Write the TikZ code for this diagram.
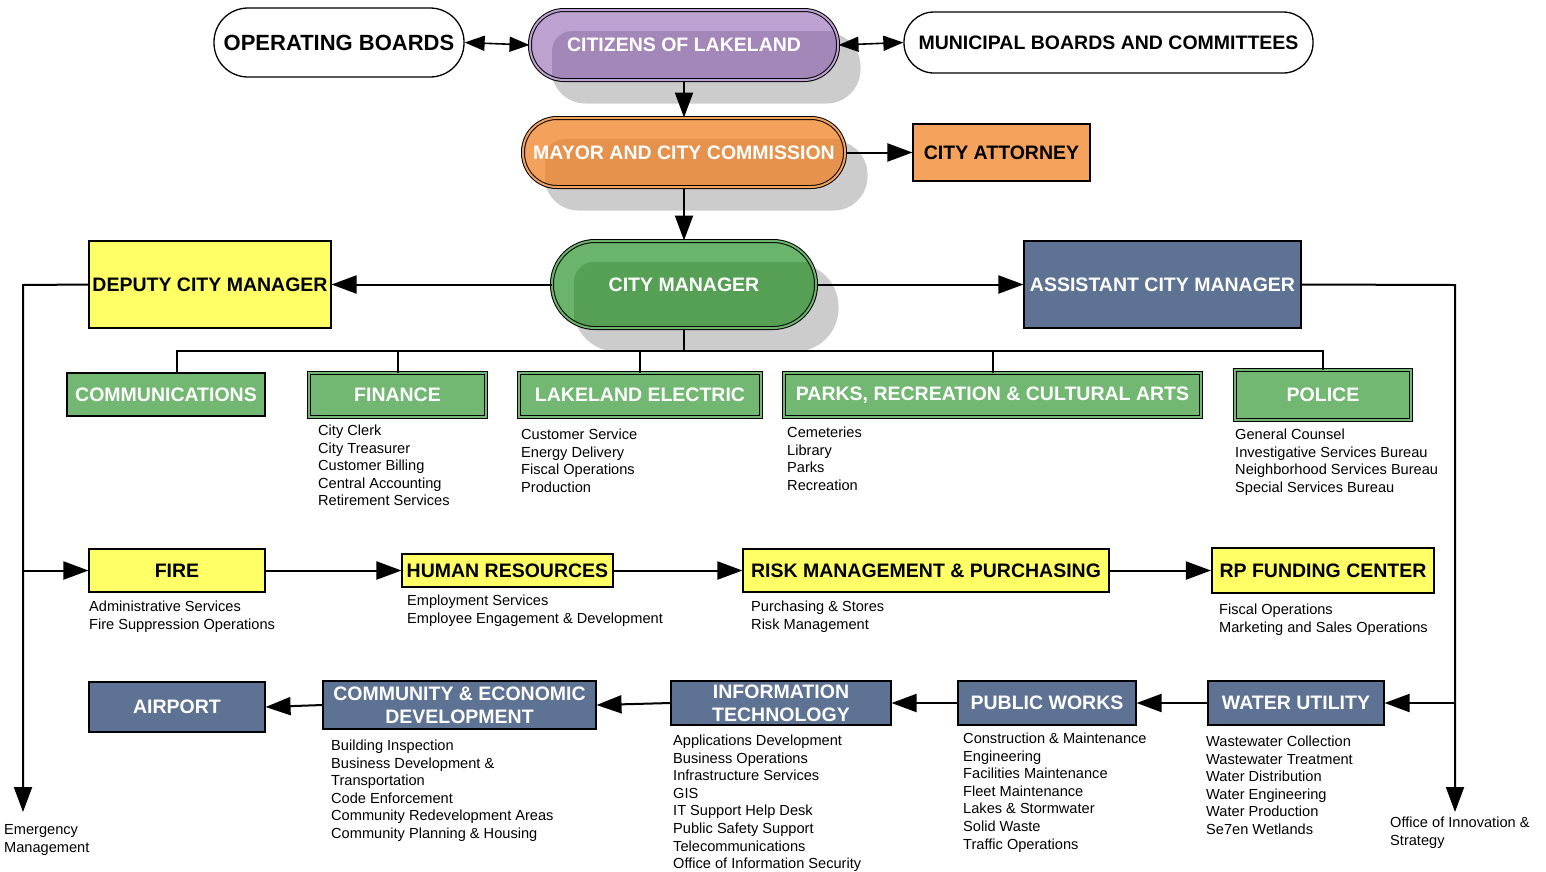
\documentclass[tikz,border=0pt]{standalone}
\usepackage{fontspec}
\setmainfont{Liberation Sans}
\usetikzlibrary{arrows.meta,calc}
\pgfdeclarelayer{background}
\pgfsetlayers{background,main}
\definecolor{purL}{HTML}{BDA1D1}
\definecolor{purD}{HTML}{A387B8}
\definecolor{orL}{HTML}{F4A25B}
\definecolor{orD}{HTML}{E6924C}
\definecolor{grL}{HTML}{6BB46B}
\definecolor{grD}{HTML}{55A055}
\definecolor{grBox}{HTML}{72B872}
\definecolor{yelC}{HTML}{FFFF66}
\definecolor{slateC}{HTML}{5E7293}
\definecolor{attC}{HTML}{F4A25C}
\definecolor{shadC}{HTML}{CCCCCC}
\newcommand\titlef{\bfseries\fontsize{19.5}{23}\selectfont}
\newcommand\obfont{\bfseries\fontsize{22}{25}\selectfont}
\newcommand\listf{\fontsize{14.6}{17.6}\selectfont}
\begin{document}
\begin{tikzpicture}[x=1pt,y=-1pt,
  conn/.style={line width=2pt},
  arr/.style={conn,-{Triangle[length=25pt,width=18pt]}},
  darr/.style={line width=1.6pt,{Triangle[length=20pt,width=15pt]}-{Triangle[length=20pt,width=15pt]}},
  box/.style={draw,line width=1.1pt,inner sep=0pt,font=\titlef,align=center},
  dbox/.style={box,line width=0.8pt,double distance=1.8pt},
  gbox/.style={dbox,fill=grBox,double=grBox,text=white},
  ybox/.style={box,fill=yelC},
  sbox/.style={box,fill=slateC,text=white},
  board/.style={draw,line width=1.3pt,fill=white,inner sep=0pt,font=\titlef},
  pill/.style n args={3}{rounded corners=#3,fill=#1,draw=black,line width=1pt,
    double=#1,double distance=2pt,text=white,font=\titlef,inner sep=0pt,
    path picture={\fill[#2,rounded corners=20pt]
      ([shift={(22pt,-21pt)}]path picture bounding box.north west) rectangle
      ([shift={(30pt,-30pt)}]path picture bounding box.south east);}},
  lst/.style={anchor=north west,inner sep=0pt,align=left,font=\listf}
]
\useasboundingbox (0,0) rectangle (1546,871);

% top level
\node[board,font=\obfont,minimum width=250pt,minimum height=69pt,rounded corners=34pt] (ob) at (339,42.5) {OPERATING BOARDS};
\node[pill={purL}{purD}{34pt},minimum width=308pt,minimum height=70pt] (cit) at (684,45) {CITIZENS OF LAKELAND};
\node[board,minimum width=409pt,minimum height=61pt,rounded corners=30pt] (mbc) at (1108.5,42.5) {MUNICIPAL BOARDS AND COMMITTEES};
\node[pill={orL}{orD}{34pt},minimum width=322pt,minimum height=69pt] (mayor) at (684,152.5) {MAYOR AND CITY COMMISSION};
\node[box,fill=attC,minimum width=177pt,minimum height=57pt] (att) at (1001.5,152.5) {CITY ATTORNEY};
\node[pill={grL}{grD}{43pt},minimum width=264pt,minimum height=87pt] (cm) at (684,284.5) {CITY MANAGER};
\node[ybox,minimum width=242pt,minimum height=87pt] (dcm) at (210,284.5) {DEPUTY CITY MANAGER};
\node[sbox,minimum width=277pt,minimum height=87pt] (acm) at (1162.5,284.5) {ASSISTANT CITY MANAGER};

\begin{pgfonlayer}{background}
\foreach \n/\r in {cit/34pt,mayor/34pt,cm/43pt}
  \fill[shadC,rounded corners=\r] ([shift={(22pt,-23pt)}]\n.south west) rectangle ([shift={(22pt,-23pt)}]\n.north east);
\end{pgfonlayer}

% green departments
\node[box,fill=grBox,text=white,minimum width=198pt,minimum height=43pt] (comm) at (166,394.5) {COMMUNICATIONS};
\node[gbox,minimum width=177pt,minimum height=44pt] (fin) at (397.5,395) {FINANCE};
\node[gbox,minimum width=242pt,minimum height=44pt] (elec) at (640,395) {LAKELAND ELECTRIC};
\node[gbox,minimum width=417pt,minimum height=44pt] (parks) at (992.5,395) {PARKS, RECREATION \& CULTURAL ARTS};
\node[gbox,minimum width=176pt,minimum height=50pt] (police) at (1323,395) {POLICE};

% yellow departments
\node[ybox,minimum width=176pt,minimum height=43pt] (fire) at (177,570.5) {FIRE};
\node[ybox,minimum width=211pt,minimum height=33pt] (hr) at (507.5,570.5) {HUMAN RESOURCES};
\node[ybox,minimum width=366pt,minimum height=43pt] (risk) at (926,570.5) {RISK MANAGEMENT \& PURCHASING};
\node[ybox,line width=2.2pt,minimum width=222pt,minimum height=45pt] (rp) at (1323,570.5) {RP FUNDING CENTER};

% slate departments
\node[sbox,minimum width=176pt,minimum height=50pt] (air) at (177,707) {AIRPORT};
\node[sbox,minimum width=273pt,minimum height=48pt,font=\bfseries\fontsize{19.5}{23}\selectfont] (ced) at (459.5,705) {COMMUNITY \& ECONOMIC\\DEVELOPMENT};
\node[sbox,minimum width=220pt,minimum height=44pt,font=\bfseries\fontsize{19.5}{23}\selectfont] (it) at (781,703) {INFORMATION\\TECHNOLOGY};
\node[sbox,minimum width=178pt,minimum height=44pt] (pw) at (1047,703) {PUBLIC WORKS};
\node[sbox,minimum width=176pt,minimum height=44pt] (wu) at (1296,703) {WATER UTILITY};

% lists
\node[lst] (finl) at (318,424.7) {City Clerk\\City Treasurer\\Customer Billing\\Central Accounting\\Retirement Services};
\node[lst] (elecl) at (521,428.7) {Customer Service\\Energy Delivery\\Fiscal Operations\\Production};
\node[lst] (parksl) at (787,426.7) {Cemeteries\\Library\\Parks\\Recreation};
\node[lst] (policel) at (1235,428.7) {General Counsel\\Investigative Services Bureau\\Neighborhood Services Bureau\\Special Services Bureau};
\node[lst] (firel) at (89,600.7) {Administrative Services\\Fire Suppression Operations};
\node[lst] (hrl) at (407,594.7) {Employment Services\\Employee Engagement \& Development};
\node[lst] (riskl) at (751,600.7) {Purchasing \& Stores\\Risk Management};
\node[lst] (rpl) at (1219,603.7) {Fiscal Operations\\Marketing and Sales Operations};
\node[lst] (cedl) at (331,739.7) {Building Inspection\\Business Development \&\\Transportation\\Code Enforcement\\Community Redevelopment Areas\\Community Planning \& Housing};
\node[lst] (itl) at (673,734.7) {Applications Development\\Business Operations\\Infrastructure Services\\GIS\\IT Support Help Desk\\Public Safety Support\\Telecommunications\\Office of Information Security};
\node[lst] (pwl) at (963,732.7) {Construction \& Maintenance\\Engineering\\Facilities Maintenance\\Fleet Maintenance\\Lakes \& Stormwater\\Solid Waste\\Traffic Operations};
\node[lst] (wul) at (1206,735.7) {Wastewater Collection\\Wastewater Treatment\\Water Distribution\\Water Engineering\\Water Production\\Se7en Wetlands};
\node[lst] (eml) at (4,824.7) {Emergency\\Management};
\node[lst] (oisl) at (1390,816.7) {Office of Innovation \&\\Strategy};

% connectors top
\draw[darr] (ob.east) -- (cit.west);
\draw[darr] (cit.east) -- (mbc.west);
\draw[arr] (cit.south) -- (mayor.north);
\draw[arr] (mayor.east) -- (att.west);
\draw[arr] (mayor.south) -- (cm.north);
\draw[arr] (cm.west) -- (dcm.east);
\draw[arr] (cm.east) -- (acm.west);

% bus
\coordinate (bus) at (684,351);
\draw[conn] (cm.south) -- (bus);
\draw[conn] ([xshift=11pt]comm.north) |- (bus) -| (police.north);
\draw[conn] (fin.north) -- (fin.north |- bus);
\draw[conn] (elec.north) -- (elec.north |- bus);
\draw[conn] (parks.north) -- (parks.north |- bus);

% left trunk
\coordinate (lbend) at (23,285);
\coordinate (emtip) at (23,812);
\draw[arr] (dcm.west) -- (lbend) -- (emtip);
\draw[arr] (lbend |- fire.west) -- (fire.west);
\draw[arr] (fire.east) -- (hr.west);
\draw[arr] (hr.east) -- (risk.west);
\draw[arr] (risk.east) -- (rp.west);

% right trunk
\coordinate (rbend) at (1455,285);
\coordinate (oistip) at (1455,812);
\draw[arr] (acm.east) -- (rbend) -- (oistip);
\draw[arr] (rbend |- wu.east) -- (wu.east);
\draw[arr] (wu.west) -- (pw.east);
\draw[arr] (pw.west) -- (it.east);
\draw[arr] (it.west) -- (ced.east);
\draw[arr] (ced.west) -- (air.east);
\end{tikzpicture}
\end{document}
